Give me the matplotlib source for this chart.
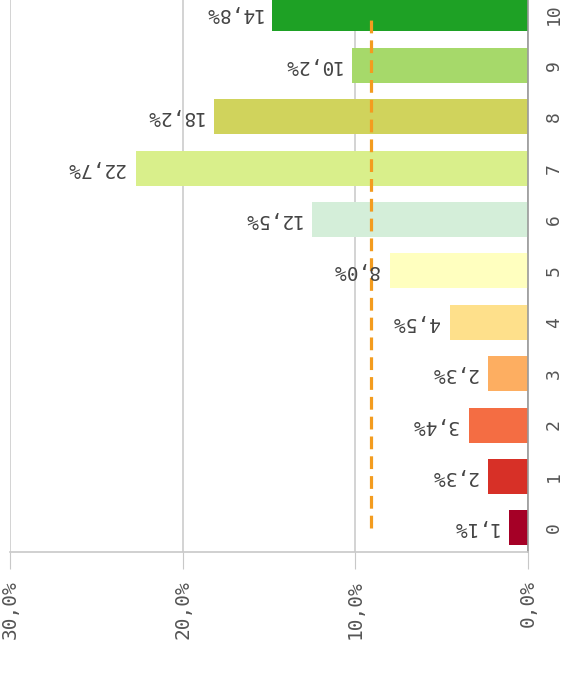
import matplotlib
matplotlib.use('Agg')
import matplotlib.pyplot as plt
import numpy as np

# data
categories = ['0', '1', '2', '3', '4', '5', '6', '7', '8', '9', '10']
values = [1.1, 2.3, 3.4, 2.3, 4.5, 8.0, 12.5, 22.7, 18.2, 10.2, 14.8]
colors = ['#a50026', '#d73027', '#f46d43', '#fdae61', '#fee08b', '#ffffbf',
          '#d4eed9', '#d9ef8b', '#d0d35c', '#a6d96a', '#1ea125']
avg_value = 9.1
x_ticks = [0, 10, 20, 30]
x_ticklabels = ['0,0%', '10,0%', '20,0%', '30,0%']

plt.rcParams['font.family'] = 'DejaVu Sans Mono'

fig = plt.figure(figsize=(5.69, 6.75), dpi=100)
ax = fig.add_axes([10/569, (675-552)/675, 518/569, 552/675])

pos = np.arange(len(categories))
ax.barh(pos, values, height=0.68, color=colors, zorder=2)

# average line
ax.plot([avg_value, avg_value], [pos[0], pos[-1] - 0.1], color='#f39c1f',
        linewidth=2.3, dashes=(4, 2.2), zorder=3)

# value labels (upside down)
for p, v in zip(pos, values):
    ax.annotate(f'{v:.1f}%'.replace('.', ','), (v, p), xytext=(-8, 0),
                textcoords='offset points', rotation=180, ha='right',
                va='center', fontsize=14, color='#444444', zorder=4)

ax.set_xlim(30, 0)
ax.set_ylim(-0.47, 10.27)
ax.set_xticks(x_ticks)
ax.set_xticklabels(x_ticklabels, rotation=90, fontsize=14, color='#555555')
ax.tick_params(axis='x', length=12, color='#c8c8c8', pad=8)

ax.yaxis.tick_right()
ax.set_yticks(pos)
ax.set_yticklabels(categories, rotation=90, fontsize=13, color='#555555',
                   va='center')
ax.tick_params(axis='y', length=0, pad=12)

ax.grid(axis='x', color='#cccccc', linewidth=1.2, zorder=0)
ax.spines['top'].set_visible(False)
ax.spines['left'].set_visible(False)
ax.spines['bottom'].set_color('#c8c8c8')
ax.spines['bottom'].set_linewidth(1.2)
ax.spines['right'].set_color('#999999')
ax.spines['right'].set_linewidth(1.2)

plt.savefig('out.png', dpi=100)
